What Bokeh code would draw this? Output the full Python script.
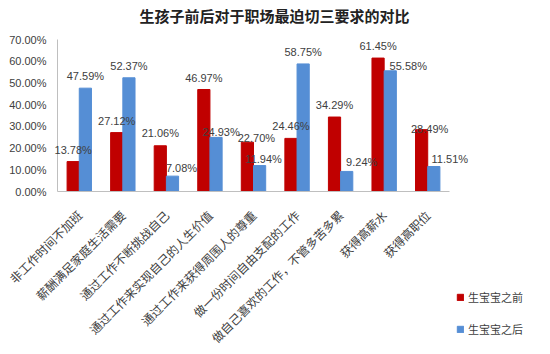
from bokeh.plotting import figure
from bokeh.models import (Range1d, Label, LabelSet, ColumnDataSource, Legend, LegendItem)
from bokeh.core.properties import value
from bokeh.embed import file_html
from bokeh.resources import INLINE
import math

title = "生孩子前后对于职场最迫切三要求的对比"
categories = ["非工作时间不加班", "薪酬满足家庭生活需要", "通过工作不断挑战自己",
              "通过工作来实现自己的人生价值", "通过工作来获得周围人的尊重",
              "做一份时间自由支配的工作", "做自己喜欢的工作，不管多苦多累",
              "获得高薪水", "获得高职位"]
before = [13.78, 27.12, 21.06, 46.97, 22.70, 24.46, 34.29, 61.45, 28.49]
after = [47.59, 52.37, 7.08, 24.93, 11.94, 58.75, 9.24, 55.58, 11.51]
series_names = ["生宝宝之前", "生宝宝之后"]
y_ticks = [0, 10, 20, 30, 40, 50, 60, 70]

# label placement tweaks (screen px), as in the original chart
before_lab_dx = [0, 0, 0, 0, 9, 0, 0, 0, 8]
before_lab_dy = [12, 12, 13, 12, 4, 12, 12, 12, 1]
after_lab_dx = [0, 0, 9, 5, 4, 0, 15, 18, 16]
after_lab_dy = [12, 12, 8, 5, 7, 12, 9, 5, 8]

RED = "#C00000"
BLUE = "#558ED5"
TXT = "#404040"
AXIS = "#BFBFBF"
W = 0.28

n = len(categories)
ymax = y_ticks[-1]

# plot area (0..n, 0..ymax) maps to x 57..449 px and y 191..39 px;
# the frame covers the whole canvas so no text is clipped
PX_X = 392 / n
PX_Y = 152 / ymax
x_start = -57 / PX_X
x_end = (550 - 57) / PX_X
y_top = ymax + 39 / PX_Y
y_bot = -(354 - 191) / PX_Y

xc = [i + 0.5 for i in range(n)]
src_b = ColumnDataSource(dict(x=[c - W / 2 for c in xc], top=before,
                              lab=["%.2f%%" % v for v in before],
                              dx=before_lab_dx, dy=before_lab_dy))
src_a = ColumnDataSource(dict(x=[c + W / 2 for c in xc], top=after,
                              lab=["%.2f%%" % v for v in after],
                              dx=after_lab_dx, dy=after_lab_dy))
src_c = ColumnDataSource(dict(x=xc, y=[-21 / PX_Y] * n, name=categories))
src_t = ColumnDataSource(dict(x=[0] * len(y_ticks), y=y_ticks,
                              lab=["%.2f%%" % t for t in y_ticks]))

p = figure(width=550, height=354, output_backend="svg", toolbar_location=None,
           x_range=Range1d(x_start, x_end), y_range=Range1d(y_bot, y_top),
           min_border_left=0, min_border_right=0, min_border_top=0,
           min_border_bottom=0)
p.outline_line_color = None
p.grid.visible = False
p.axis.visible = False

rb = p.vbar(x="x", top="top", width=W, source=src_b, color=RED)
ra = p.vbar(x="x", top="top", width=W, source=src_a, color=BLUE)

# axis lines
p.segment(x0=0, y0=0, x1=n, y1=0, line_color=AXIS, line_width=1)
p.segment(x0=0, y0=0, x1=0, y1=ymax, line_color=AXIS, line_width=1)

# y tick labels
p.add_layout(LabelSet(x="x", y="y", text="lab", source=src_t, x_offset=-11,
                      text_align="right", text_baseline="middle",
                      text_font=value("Liberation Sans"), text_font_size="11px",
                      text_color=TXT))

# data labels
for src in (src_b, src_a):
    p.add_layout(LabelSet(x="x", y="top", text="lab", source=src,
                          x_offset="dx", y_offset="dy",
                          text_align="center", text_baseline="middle",
                          text_font=value("Liberation Sans"), text_font_size="11px",
                          text_color=TXT))

# category labels
p.add_layout(LabelSet(x="x", y="y", text="name", source=src_c,
                      angle=math.pi / 4, text_align="right", text_baseline="middle",
                      text_font=value("Noto Sans CJK SC"), text_font_size="12px",
                      text_color=TXT))

# title
p.add_layout(Label(x=274, y=339, x_units="screen", y_units="screen", text=title,
                   text_align="center", text_baseline="middle",
                   text_font="Noto Sans CJK SC", text_font_size="15px",
                   text_font_style="bold", text_color="#222222"))

legend = Legend(items=[LegendItem(label=series_names[0], renderers=[rb]),
                       LegendItem(label=series_names[1], renderers=[ra])],
                location=(456, 17), glyph_width=8, glyph_height=8,
                label_text_font="Noto Sans CJK SC", label_text_font_size="11px",
                label_text_color=TXT, label_standoff=4, spacing=16, padding=0,
                margin=0, border_line_color=None, background_fill_alpha=0)
p.add_layout(legend, "center")

open("out.html", "w").write(file_html(p, INLINE))
